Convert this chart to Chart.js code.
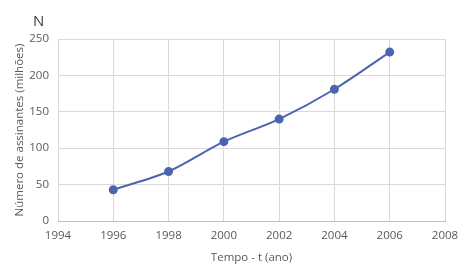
<!DOCTYPE html>
<html>
<head>
<meta charset="utf-8">
<script src="https://cdn.jsdelivr.net/npm/chart.js@4.4.1/dist/chart.umd.min.js"></script>
<style>
  html, body { margin: 0; padding: 0; background: #fff; }
  #wrap { position: relative; width: 467px; height: 274px; }
  #nlabel { position: absolute; left: 33px; top: 10px; font-family: "Open Sans", sans-serif; font-size: 15px; color: #404040; }
</style>
</head>
<body>
<div id="wrap">
  <canvas id="mycanvas" width="467" height="274"></canvas>
  <div id="nlabel">N</div>
</div>
<script>
var anos = [1996, 1998, 2000, 2002, 2004, 2006];
var assinantes = [43, 68, 109, 140, 181, 232];

var pontos = [];
for (var i in anos) {
	pontos.push({x: anos[i], y: assinantes[i]});
}

var fonte = {family: "'Open Sans', sans-serif", size: 11.5};
var cinza = "#595959";

var ctx = document.getElementById("mycanvas");
var grafico = new Chart(ctx, {
	type: 'scatter',
	data: {
		datasets: [{
			data: pontos,
			showLine: true,
			tension: 0.3,
			borderColor: "#4c64b0",
			backgroundColor: "#4c64b0",
			borderWidth: 2,
			pointRadius: 3.5,
			pointHoverRadius: 3.5
		}]
	},
	options: {
		responsive: false,
		animation: false,
		layout: {padding: {top: 39, right: 22, left: 0, bottom: 0}},
		plugins: {legend: {display: false}, tooltip: {enabled: false}},
		scales: {
			x: {
				type: 'linear',
				min: 1994,
				max: 2008,
				ticks: {stepSize: 2, padding: 8, color: cinza, font: fonte,
					callback: function(v) { return String(v); }},
				grid: {color: "#d9d9d9", drawTicks: false},
				border: {color: "#bfbfbf"},
				title: {display: true, text: "Tempo - t (ano)", color: cinza, font: fonte,
					padding: {top: 4, bottom: 9}},
				afterFit: function(s) { s.height = 53; }
			},
			y: {
				min: 0,
				max: 250,
				ticks: {stepSize: 50, padding: 9, color: cinza, font: fonte},
				grid: {color: "#d9d9d9", drawTicks: false},
				border: {display: false},
				title: {display: true, text: "Número de assinantes (milhões)", color: cinza, font: fonte,
					padding: {top: 13, bottom: 0}},
				afterFit: function(s) { s.width = 58; }
			}
		}
	}
});
</script>
</body>
</html>
